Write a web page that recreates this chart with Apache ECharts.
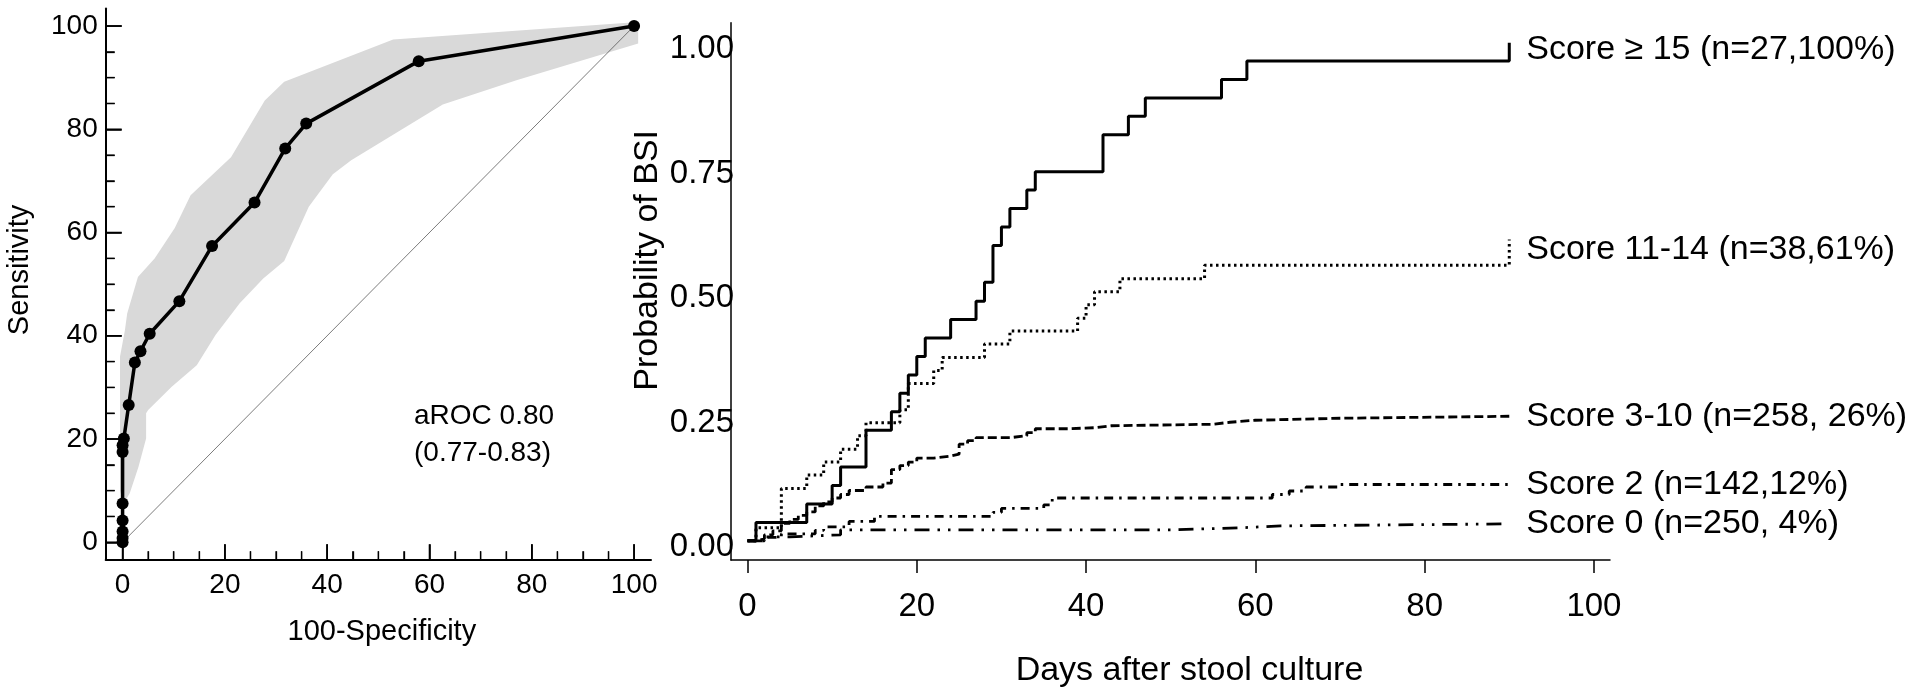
<!DOCTYPE html>
<html><head><meta charset="utf-8">
<script src="https://cdn.jsdelivr.net/npm/echarts@6/dist/echarts.min.js"></script>
<style>html,body{margin:0;padding:0;background:#fff;}#c{width:1911px;height:693px;}</style>
</head><body><div id="c"></div>
<script>
// ---- Left panel: ROC curve ----
const rocFpr  = [0, 0, 0, 0, 0, 0, 0, 0.25, 1.2, 2.4, 3.5, 5.3, 11.1, 17.5, 25.8, 31.8, 35.9, 57.9, 100];
const rocSens = [0, 0.8, 2.1, 4.2, 7.5, 17.5, 18.8, 20.1, 26.6, 34.8, 37.0, 40.4, 46.7, 57.4, 65.8, 76.3, 81.1, 93.2, 100];
// confidence band (upper edge left->right, lower edge right->left)
const bandUpperX = [0.2, -0.5, -0.5, 0.45, 0.9, 3.0, 6.3, 10.2, 13.3, 21.2, 27.8, 31.6, 52.9, 100.8];
const bandUpperY = [7.5, 10, 36, 41, 44.3, 51.4, 55.0, 60.9, 67.2, 74.6, 85.6, 89.2, 97.4, 100.8];
const bandLowerX = [100.8, 77.0, 62.6, 44.7, 41.1, 36.4, 31.6, 27.5, 22.9, 18.2, 14.5, 9.6, 5.0, 4.6, 4.6, 3.1, 1.4];
const bandLowerY = [96.6, 89.5, 84.8, 74.0, 71.3, 65.0, 54.5, 51.1, 46.3, 40.2, 34.3, 30.1, 25.6, 25.0, 20.1, 14.6, 9.5];
const refLineX = [0, 100];
const refLineY = [0, 100];
const rocTicks = [0, 20, 40, 60, 80, 100];
const rocMinorTicks = [5, 10, 15, 25, 30, 35, 45, 50, 55, 65, 70, 75, 85, 90, 95];
const aucText = ['aROC 0.80', '(0.77-0.83)'];

// ---- Right panel: cumulative incidence ----
const days15 = [0, 1, 7, 10, 11, 14, 17, 18, 19, 20, 21, 24, 27, 28, 29, 30, 31, 33, 34, 42, 45, 47, 56, 59, 90];
const prob15 = [0, 0.037, 0.074, 0.111, 0.148, 0.222, 0.259, 0.296, 0.333, 0.370, 0.407, 0.444, 0.481, 0.519, 0.593, 0.630, 0.667, 0.704, 0.741, 0.815, 0.852, 0.889, 0.926, 0.963, 1.0];
const days1114 = [0, 1, 4, 7, 9, 11, 13, 14, 18, 19, 22, 23, 28, 31, 39, 40, 41, 44, 54, 90];
const prob1114 = [0, 0.026, 0.105, 0.132, 0.158, 0.184, 0.211, 0.237, 0.263, 0.316, 0.342, 0.368, 0.395, 0.421, 0.447, 0.474, 0.500, 0.526, 0.553, 0.605];
const days310 = [0, 1, 2, 3, 4, 5, 6, 7, 8, 9, 10, 11, 12, 14, 16, 17, 18, 19, 20, 22, 24, 25, 26, 27, 31, 33, 34, 38, 41, 43, 55, 57, 60, 70, 90];
const prob310 = [0, 0.004, 0.012, 0.020, 0.035, 0.043, 0.051, 0.058, 0.070, 0.078, 0.086, 0.093, 0.101, 0.108, 0.116, 0.143, 0.151, 0.158, 0.166, 0.170, 0.174, 0.194, 0.201, 0.207, 0.211, 0.217, 0.225, 0.227, 0.231, 0.234, 0.238, 0.242, 0.246, 0.250, 0.250];
const days2 = [0, 2, 4, 8, 9, 12, 15, 29, 30, 35, 36, 62, 64, 66, 70, 90];
const prob2 = [0, 0.007, 0.014, 0.021, 0.028, 0.039, 0.049, 0.057, 0.065, 0.072, 0.086, 0.093, 0.100, 0.108, 0.113, 0.113];
const days0 = [0, 2, 5, 11, 50, 58, 63, 90];
const prob0 = [0, 0.008, 0.012, 0.022, 0.026, 0.030, 0.034, 0.034];
const groupLabels = ['Score \u2265 15 (n=27,100%)', 'Score 11-14 (n=38,61%)', 'Score 3-10 (n=258, 26%)', 'Score 2 (n=142,12%)', 'Score 0 (n=250, 4%)'];
const kmXTicks = [0, 20, 40, 60, 80, 100];
const kmYTicks = [0, 0.25, 0.5, 0.75, 1.0];

const FF = '"Liberation Sans", Arial, Helvetica, sans-serif';
const zip = (a, b) => a.map((v, i) => [v, b[i]]);

// left panel: outer frame range (axis lines sit at its minimum), inner data range 0..100
const ROC_XMIN = -3.3, ROC_XMAX = 103.3, ROC_YMIN = -3.3, ROC_YMAX = 103.4;

const chart = echarts.init(document.getElementById('c'), null, {renderer: 'canvas'});

function kmSeries(days, prob, label, dash, width, labelOffsetY) {
  return {
    type: 'line', xAxisIndex: 1, yAxisIndex: 1, step: 'end', symbol: 'none',
    data: zip(days, prob), animation: false, silent: true,
    lineStyle: {color: '#000', width: width, type: dash, cap: 'butt'},
    endLabel: {show: true, formatter: label, color: '#000', fontFamily: FF, fontSize: 34,
               distance: 17, offset: [0, labelOffsetY]},
    clip: false
  };
}
// tick-only axes on the inner ROC grid, pushed out onto the frame lines
function rocTickAxis(pos, values, len, width, offset) {
  return {type: 'value', gridIndex: 2, position: pos, offset: offset, min: 0, max: 100,
          axisLine: {show: false, onZero: false},
          axisTick: {show: true, inside: true, length: len, customValues: values, lineStyle: {color: '#000', width: width}},
          axisLabel: {show: false}, splitLine: {show: false}};
}

const option = {
  animation: false,
  backgroundColor: '#fff',
  textStyle: {fontFamily: FF, color: '#000'},
  grid: [
    {left: 105.7, top: 8.5, width: 545.3, height: 550.8},
    {left: 731, top: 22.7, width: 879, height: 538.8},
    {left: 122.58, top: 26.05, width: 511.5, height: 516.2}
  ],
  xAxis: [
    {type: 'value', gridIndex: 0, position: 'bottom', min: ROC_XMIN, max: ROC_XMAX,
     name: '100-Specificity', nameLocation: 'middle', nameGap: 58,
     nameTextStyle: {fontSize: 29, color: '#000', fontFamily: FF, padding: [0, 0, 0, 7]},
     axisLine: {show: true, onZero: false, lineStyle: {color: '#000', width: 2}},
     axisTick: {show: false},
     axisLabel: {show: true, customValues: rocTicks, margin: 12, fontSize: 28, color: '#000', fontFamily: FF},
     splitLine: {show: false}},
    {type: 'value', gridIndex: 1, position: 'bottom', min: -1.95, max: 101.9,
     name: 'Days after stool culture', nameLocation: 'middle', nameGap: 94,
     nameTextStyle: {fontSize: 34, color: '#000', fontFamily: FF, padding: [0, 0, 0, 38]},
     axisLine: {show: true, onZero: false, lineStyle: {color: '#000', width: 1.5}},
     axisTick: {show: true, inside: false, length: 13, customValues: kmXTicks, lineStyle: {color: '#000', width: 1.5}},
     axisLabel: {show: true, customValues: kmXTicks, margin: 30, fontSize: 33, color: '#000', fontFamily: FF},
     splitLine: {show: false}},
    rocTickAxis('bottom', rocTicks, 15, 1.6, 17.04),
    rocTickAxis('bottom', rocMinorTicks, 8, 1.3, 17.04)
  ],
  yAxis: [
    {type: 'value', gridIndex: 0, position: 'left', min: ROC_YMIN, max: ROC_YMAX,
     name: 'Sensitivity', nameLocation: 'middle', nameGap: 71, nameRotate: 90,
     nameTextStyle: {fontSize: 29, color: '#000', fontFamily: FF, padding: [0, 0, 0, 28]},
     axisLine: {show: true, onZero: false, lineStyle: {color: '#000', width: 2}},
     axisTick: {show: false},
     axisLabel: {show: true, customValues: rocTicks, margin: 8, fontSize: 28, color: '#000', fontFamily: FF},
     splitLine: {show: false}},
    {type: 'value', gridIndex: 1, position: 'left', min: -0.0385, max: 1.04,
     name: 'Probability of BSI', nameLocation: 'middle', nameGap: 66, nameRotate: 90,
     nameTextStyle: {fontSize: 34, color: '#000', fontFamily: FF, padding: [0, 0, 0, 62]},
     axisLine: {show: true, onZero: false, lineStyle: {color: '#000', width: 1.5}},
     axisTick: {show: false},
     axisLabel: {show: true, customValues: kmYTicks, margin: -3, fontSize: 33, color: '#000', fontFamily: FF,
                 verticalAlign: 'top', lineHeight: 13, formatter: v => v.toFixed(2)},
     splitLine: {show: false}},
    rocTickAxis('left', rocTicks, 16, 1.6, 16.88),
    rocTickAxis('left', rocMinorTicks, 9, 1.3, 16.88)
  ],
  graphic: [
    {type: 'text', left: 414, top: 402, style: {text: aucText[0], font: '28px ' + FF, fill: '#000'}},
    {type: 'text', left: 414, top: 439, style: {text: aucText[1], font: '28px ' + FF, fill: '#000'}}
  ],
  series: [
    {type: 'custom', xAxisIndex: 2, yAxisIndex: 2, silent: true, z: 1, clip: false,
     data: [[0, 0]],
     renderItem: function (params, api) {
       const pts = [];
       for (let i = 0; i < bandUpperX.length; i++) pts.push(api.coord([bandUpperX[i], bandUpperY[i]]));
       for (let i = 0; i < bandLowerX.length; i++) pts.push(api.coord([bandLowerX[i], bandLowerY[i]]));
       return {type: 'polygon', shape: {points: pts}, style: {fill: '#d9d9d9', stroke: null}};
     }},
    {type: 'line', xAxisIndex: 2, yAxisIndex: 2, symbol: 'none', silent: true, z: 2, clip: false,
     data: zip(refLineX, refLineY), lineStyle: {color: '#444', width: 0.7}},
    {type: 'line', xAxisIndex: 2, yAxisIndex: 2, symbol: 'circle', symbolSize: 12, silent: true, z: 3, clip: false,
     data: zip(rocFpr, rocSens), itemStyle: {color: '#000'}, lineStyle: {color: '#000', width: 3.5}},
    kmSeries(days15, prob15, groupLabels[0], 'solid', 3, 7),
    kmSeries(days1114, prob1114, groupLabels[1], [2.5, 3.5], 3, 10),
    kmSeries(days310, prob310, groupLabels[2], [9, 4], 2.8, 0),
    kmSeries(days2, prob2, groupLabels[3], [9, 6, 2.5, 6], 2.8, 0),
    kmSeries(days0, prob0, groupLabels[4], [15, 8, 2.5, 8, 2.5, 8], 2.8, 0)
  ]
};
chart.setOption(option);

// Fallback: same inward ticks as graphic lines, positioned through the frame axes' scales
(function addTickGraphics() {
  const els = option.graphic.slice();
  const f = {xAxisIndex: 0, yAxisIndex: 0};
  const addX = (vals, len, w) => vals.forEach(v => {
    const p = chart.convertToPixel(f, [v, ROC_YMIN]);
    if (!p || isNaN(p[0])) return;
    els.push({type: 'line', z: 100, silent: true, shape: {x1: p[0], y1: p[1], x2: p[0], y2: p[1] - len},
              style: {stroke: '#000', lineWidth: w}});
  });
  const addY = (vals, len, w) => vals.forEach(v => {
    const p = chart.convertToPixel(f, [ROC_XMIN, v]);
    if (!p || isNaN(p[1])) return;
    els.push({type: 'line', z: 100, silent: true, shape: {x1: p[0], y1: p[1], x2: p[0] + len, y2: p[1]},
              style: {stroke: '#000', lineWidth: w}});
  });
  addX(rocTicks, 15, 1.6); addX(rocMinorTicks, 8, 1.3);
  addY(rocTicks, 16, 1.6); addY(rocMinorTicks, 9, 1.3);
  chart.setOption({graphic: els}, {replaceMerge: ['graphic']});
})();
</script></body></html>
